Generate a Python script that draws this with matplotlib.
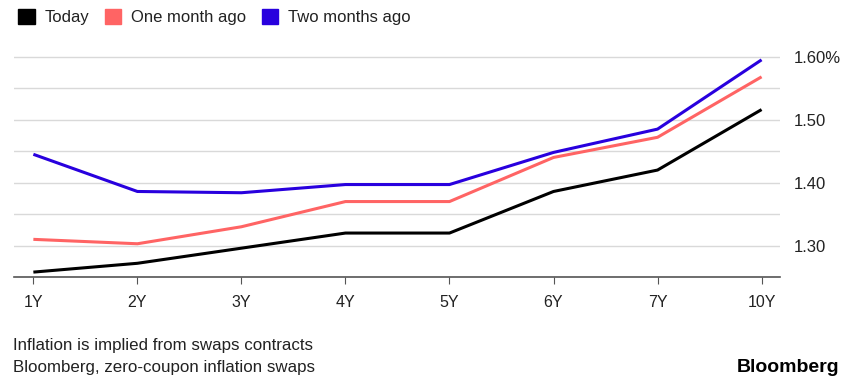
import matplotlib.pyplot as plt
from matplotlib.patches import Patch
from matplotlib.ticker import MultipleLocator

tenors = ["1Y", "2Y", "3Y", "4Y", "5Y", "6Y", "7Y", "10Y"]
today = [1.258, 1.272, 1.296, 1.320, 1.320, 1.386, 1.420, 1.516]
one_month = [1.310, 1.303, 1.330, 1.370, 1.370, 1.440, 1.472, 1.568]
two_months = [1.445, 1.386, 1.384, 1.397, 1.397, 1.448, 1.485, 1.595]

c_today = "#000000"
c_one = "#FF6464"
c_two = "#2800DE"

plt.rcParams['font.family'] = ['Liberation Sans', 'DejaVu Sans']

fig = plt.figure(figsize=(8.5, 3.86), dpi=100)
ax = fig.add_axes([0.016, 0.282, 0.902, 0.612])

x = list(range(len(tenors)))
ax.plot(x, today, color=c_today, lw=2.2, solid_capstyle='butt', zorder=3)
ax.plot(x, one_month, color=c_one, lw=2.2, solid_capstyle='butt', zorder=3)
ax.plot(x, two_months, color=c_two, lw=2.2, solid_capstyle='butt', zorder=3)

ax.set_xlim(-0.19, 7.18)
ax.set_ylim(1.25, 1.625)
ax.set_xticks(x)
ax.set_xticklabels(tenors, fontsize=11.5, color="#222222")
ax.yaxis.set_major_locator(MultipleLocator(0.1))
ax.yaxis.set_minor_locator(MultipleLocator(0.05))
ax.set_yticks([1.3, 1.4, 1.5, 1.6])
ax.set_yticklabels(["1.30", "1.40", "1.50", "1.60%"], fontsize=12, color="#222222")
ax.yaxis.tick_right()
ax.tick_params(axis='y', which='both', length=0, pad=10)
ax.tick_params(axis='x', length=5, color="#555555", pad=8)
ax.grid(axis='y', which='both', color="#D9D9D9", lw=1)
ax.set_axisbelow(True)
for s in ["top", "left", "right"]:
    ax.spines[s].set_visible(False)
ax.spines["bottom"].set_color("#555555")
ax.spines["bottom"].set_linewidth(1.2)

handles = [Patch(color=c_today, label="Today"),
           Patch(color=c_one, label="One month ago"),
           Patch(color=c_two, label="Two months ago")]
fig.legend(handles=handles, loc="upper left", bbox_to_anchor=(0.004, 1.015), ncol=3,
           frameon=False, fontsize=12, handlelength=1.0, handleheight=1.0,
           handletextpad=0.6, columnspacing=0.9, labelcolor="#222222")

fig.text(0.015, 0.105, "Inflation is implied from swaps contracts", fontsize=12.2,
         color="#222222", va='center')
fig.text(0.015, 0.048, "Bloomberg, zero-coupon inflation swaps", fontsize=12.2,
         color="#222222", va='center')
fig.text(0.987, 0.048, "Bloomberg", fontsize=14, fontweight='bold', ha='right',
         va='center', color="#000000")

fig.savefig("out.png", dpi=100)
